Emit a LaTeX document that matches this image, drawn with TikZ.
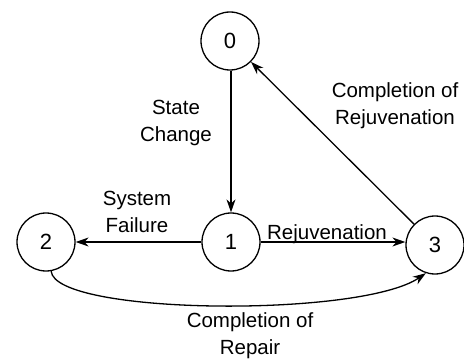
\documentclass[tikz,border=0pt]{standalone}
\usepackage{fontspec}
\setmainfont{Liberation Sans}
\usetikzlibrary{arrows.meta}
\begin{document}
\begin{tikzpicture}[x=1pt,y=-1pt,
  state/.style={draw,circle,line width=1.3pt,minimum size=58pt,inner sep=0pt,font=\fontsize{22}{22}\selectfont},
  trans/.style={line width=1.3pt,-{Stealth[length=13pt,width=9pt]}},
  lbl/.style={font=\fontsize{20.5}{27}\selectfont,align=center,inner sep=0pt}]
  \useasboundingbox (0,0) rectangle (464,361);
  % states
  \node[state] (s0) at (230,41) {0};
  \node[state] (s1) at (231,242) {1};
  \node[state] (s2) at (46,242) {2};
  \node[state] (s3) at (435,245) {3};
  % transitions
  \draw[trans] (s0.south -| s1.north) -- (s1.north);
  \draw[trans] (s1) -- (s2);
  \draw[trans] (s1.east) -- (s1.east -| s3.west);
  \draw[trans] (s3) -- (s0);
  \draw[trans] (s2.-80) .. controls (55,315) and (360,318) .. (s3.-108);
  % labels
  \node[lbl] (t01) at (176,123) {State\\Change};
  \node[lbl] (t12) at (137,212) {System\\Failure};
  \node[lbl,anchor=base] (t13) at (327,239) {Rejuvenation};
  \node[lbl] (t30) at (395,106) {Completion of\\Rejuvenation};
  \node[lbl] (t23) at (250,336) {Completion of\\Repair};
\end{tikzpicture}
\end{document}
